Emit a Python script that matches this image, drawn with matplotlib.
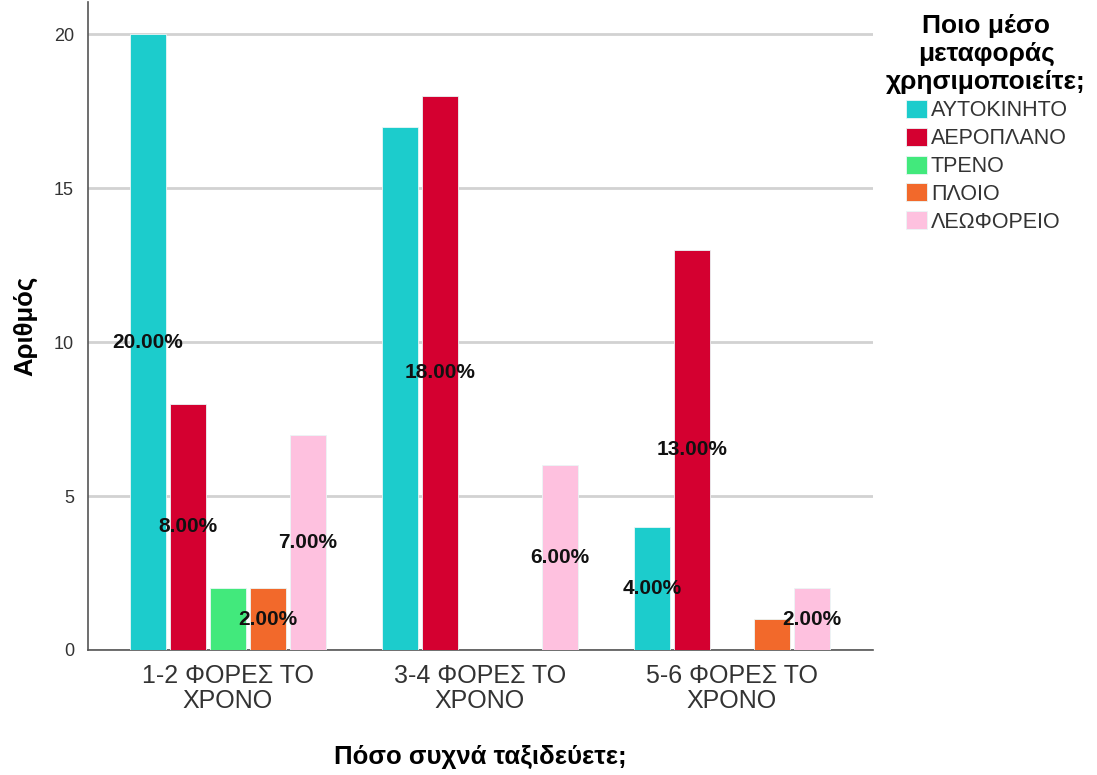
import numpy as np
import matplotlib.pyplot as plt

plt.rcParams['font.family'] = ['Liberation Sans', 'DejaVu Sans']

# Counts of travel frequency by means of transport
categories = ['1-2 ΦΟΡΕΣ ΤΟ\nΧΡΟΝΟ', '3-4 ΦΟΡΕΣ ΤΟ\nΧΡΟΝΟ', '5-6 ΦΟΡΕΣ ΤΟ\nΧΡΟΝΟ']
series_names = ['ΑΥΤΟΚΙΝΗΤΟ', 'ΑΕΡΟΠΛΑΝΟ', 'ΤΡΕΝΟ', 'ΠΛΟΙΟ', 'ΛΕΩΦΟΡΕΙΟ']
car = [20, 17, 4]
plane = [8, 18, 13]
train = [2, 0, 0]
ship = [2, 0, 1]
bus = [7, 6, 2]
# which bars carry a percentage label (overlapping ones are dropped)
show_car = [True, False, True]
show_plane = [True, True, True]
show_train = [False, False, False]
show_ship = [True, False, False]
show_bus = [True, True, True]

colors = ['#1ccccc', '#d40030', '#42e97c', '#f2692b', '#fec1df']

series = [car, plane, train, ship, bus]
shows = [show_car, show_plane, show_train, show_ship, show_bus]
total = sum(sum(s) for s in series)

fig = plt.figure(figsize=(10.97, 7.75), dpi=100)
ax = fig.add_axes([0.0802, 0.1613, 0.7156, 0.8361])

x = np.arange(len(categories))
step = 40 / 252
width = 36 / 252
label_font = ['Liberation Sans Narrow', 'Liberation Sans', 'DejaVu Sans']

handles = []
for i, (vals, show, col, name) in enumerate(zip(series, shows, colors, series_names)):
    pos = x + (i - 2) * step
    bars = ax.bar(pos, vals, width=width, color=col, edgecolor='#eaf6f6',
                  linewidth=0.6, label=name, zorder=3)
    handles.append(bars)
    for p, v, s in zip(pos, vals, show):
        if s and v > 0:
            ax.text(p, v / 2, f'{v / total * 100:.2f}%', ha='center', va='center',
                    fontsize=15, fontweight='bold', family=label_font,
                    color='#111111', zorder=4)

ax.set_xlim(-0.556, 2.56)
ax.set_ylim(0, 21.05)
ax.set_yticks([0, 5, 10, 15, 20])
ax.set_xticks(x)
ax.set_xticklabels(categories, fontsize=18, color='#333333', linespacing=1.05)
ax.tick_params(axis='y', labelsize=13, colors='#333333', length=0, pad=10)
ax.tick_params(axis='x', length=0, pad=10)
ax.yaxis.grid(True, color='#d2d2d2', linewidth=2, zorder=0)
ax.set_axisbelow(True)
for side in ['top', 'right']:
    ax.spines[side].set_visible(False)
for side in ['left', 'bottom']:
    ax.spines[side].set_color('#555555')
    ax.spines[side].set_linewidth(1.2)

ax.set_ylabel('Αριθμός', fontsize=18.5, fontweight='bold', labelpad=12)
ax.set_xlabel('Πόσο συχνά ταξιδεύετε;', fontsize=18.5, fontweight='bold', labelpad=23)

# legend title drawn separately so it can be centred over the entries
fig.text(0.899, 1 - 14 / 775, 'Ποιο μέσο\nμεταφοράς\nχρησιμοποιείτε;',
         ha='center', va='top', multialignment='center', fontsize=19,
         fontweight='bold', linespacing=1.2)
leg = fig.legend(handles=handles, labels=series_names,
                 loc='upper left', bbox_to_anchor=(0.826, 1 - 100 / 775),
                 frameon=False, fontsize=15.5, handlelength=0.95,
                 handleheight=0.9, handletextpad=0.2, labelspacing=0.3,
                 borderpad=0, borderaxespad=0)
for t in leg.get_texts():
    t.set_color('#333333')

fig.savefig('out.png', dpi=100)
